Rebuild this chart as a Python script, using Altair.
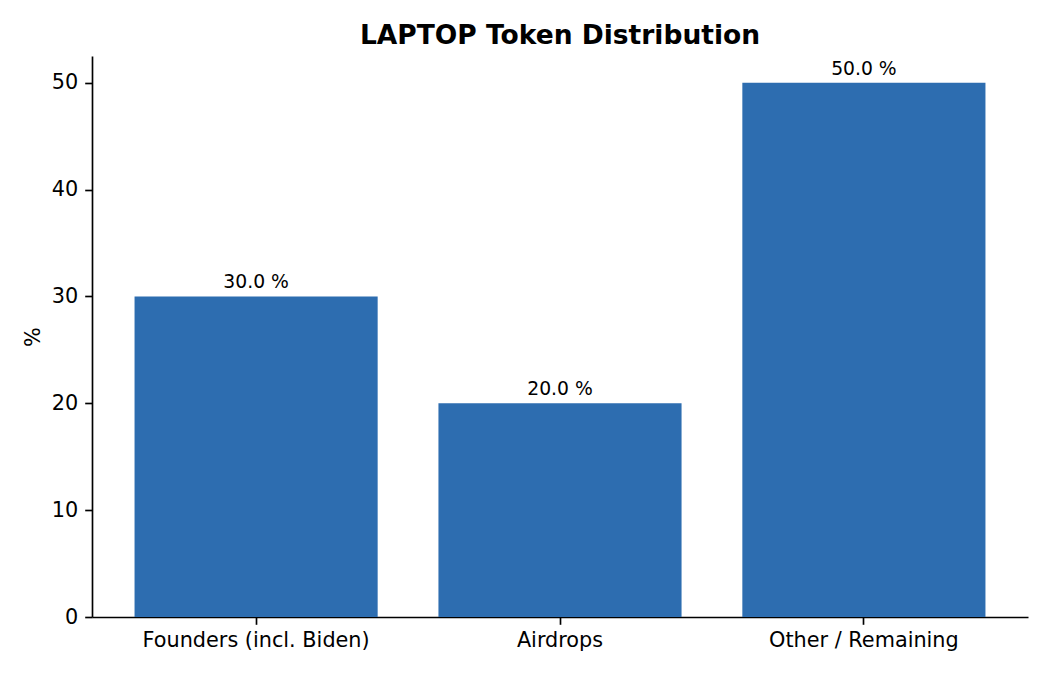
import altair as alt
import pandas as pd

categories = ["Founders (incl. Biden)", "Airdrops", "Other / Remaining"]
values = [30.0, 20.0, 50.0]
labels = ["30.0 %", "20.0 %", "50.0 %"]

df = pd.DataFrame({"cat": categories, "val": values, "lab": labels})

FONT = "DejaVu Sans"
LW = 1.67

x = alt.X("cat:N", sort=categories, title=None,
          scale=alt.Scale(paddingInner=0.2, paddingOuter=0.14),
          axis=alt.Axis(labelAngle=0, labelFontSize=20.8, labelFont=FONT, labelColor="black",
                        labelLimit=600,
                        domainColor="black", domainWidth=LW, tickColor="black", tickWidth=LW,
                        tickSize=7.3, labelPadding=6, grid=False))
y = alt.Y("val:Q", title="%",
          scale=alt.Scale(domain=[0, 52.5], nice=False),
          axis=alt.Axis(values=[0, 10, 20, 30, 40, 50], labelFontSize=20.8, labelFont=FONT,
                        labelColor="black", domainColor="black", domainWidth=LW,
                        tickColor="black", tickWidth=LW, tickSize=7.3, labelPadding=7,
                        titleFont=FONT, titleFontSize=20.8, titleFontWeight="normal",
                        titleColor="black", titlePadding=8, grid=False))

bars = alt.Chart(df).mark_bar(color="#2d6db0").encode(x=x, y=y)
text = alt.Chart(df).mark_text(baseline="alphabetic", dy=-8, fontSize=18.75, font=FONT,
                               color="black").encode(
    x=alt.X("cat:N", sort=categories), y="val:Q", text="lab:N")

chart = alt.layer(bars, text).properties(
    width=936, height=561,
    title=alt.Title("LAPTOP Token Distribution", font=FONT, fontSize=26.5, fontWeight="bold",
                    color="black", offset=7),
    autosize=alt.AutoSizeParams(type="none"),
    padding={"left": 84, "top": 48, "right": 14, "bottom": 50},
).configure_view(stroke=None)

chart.save("out.html", embed_options={"renderer": "svg", "actions": False})
